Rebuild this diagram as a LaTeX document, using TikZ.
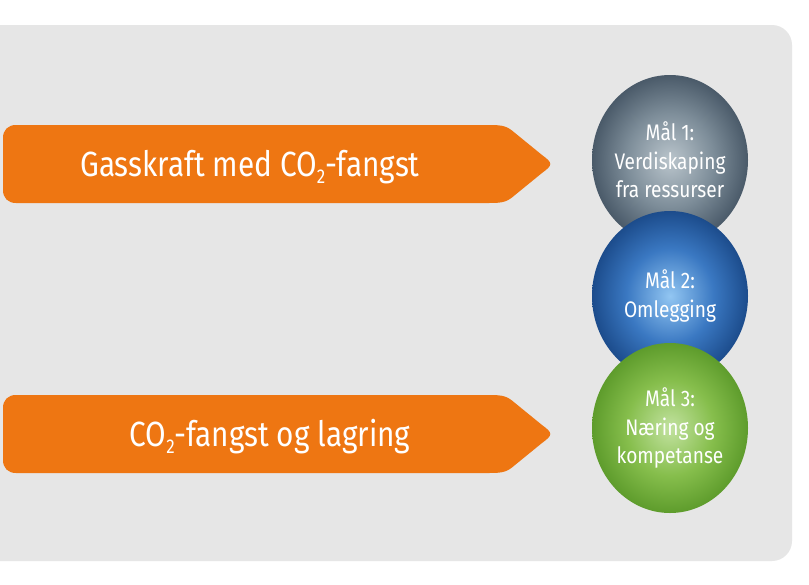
\documentclass[tikz,border=0pt]{standalone}
\usepackage{fontspec}
\newfontfamily\cf[FakeStretch=0.85]{Fira Sans}
\definecolor{panelc}{HTML}{E6E6E6}
\definecolor{arrowc}{HTML}{EE7612}
\definecolor{gA}{HTML}{BAC5CC}
\definecolor{gB}{HTML}{7D8D99}
\definecolor{gC}{HTML}{4A5A69}
\definecolor{bA}{HTML}{92C6F2}
\definecolor{bB}{HTML}{3A78C2}
\definecolor{bC}{HTML}{1C4C8C}
\definecolor{vA}{HTML}{C2E2A0}
\definecolor{vB}{HTML}{86BE4C}
\definecolor{vC}{HTML}{5E9C2C}
\pgfdeclareradialshading{ballgray}{\pgfpointorigin}{color(0bp)=(gA); color(14bp)=(gB); color(25bp)=(gC); color(50bp)=(gC)}
\pgfdeclareradialshading{ballblue}{\pgfpointorigin}{color(0bp)=(bA); color(14bp)=(bB); color(25bp)=(bC); color(50bp)=(bC)}
\pgfdeclareradialshading{ballgreen}{\pgfpointorigin}{color(0bp)=(vA); color(14bp)=(vB); color(25bp)=(vC); color(50bp)=(vC)}
\newcommand\subtwo{\raisebox{-7pt}{\fontsize{20}{20}\selectfont 2}}
\tikzset{
  orangearrow/.pic={\fill[arrowc] (16,125) -- (489,125) .. controls (503,125) and (507,126) .. (515,133) -- (542,155) .. controls (553,163) and (553,165) .. (542,173) -- (515,195) .. controls (507,202) and (503,203) .. (489,203) -- (16,203) .. controls (8,203) and (3,198) .. (3,190) -- (3,138) .. controls (3,130) and (8,125) .. (16,125) -- cycle;},
  arrowtext/.style={text=white, font=\cf\fontsize{35}{38}\selectfont, anchor=base, inner sep=0pt},
  goaltext/.style={text=white, font=\cf\fontsize{22.5}{28.5}\selectfont, align=center, inner sep=0pt},
}
\begin{document}
\begin{tikzpicture}[x=1pt,y=-1pt]
\useasboundingbox (0,0) rectangle (809,584);
\fill[white] (0,0) rectangle (809,584);
\fill[panelc] (-5,25) -- (772,25) .. controls (783,25) and (792,34) .. (792,45) -- (792,541) .. controls (792,552) and (783,561) .. (772,561) -- (-5,561) -- cycle;
\pic at (0,0) {orangearrow};
\pic at (0,270) {orangearrow};
\node[arrowtext] (a1) at (250,176) {Gasskraft med CO\subtwo-fangst};
\node[arrowtext] (a2) at (270,446) {CO\subtwo-fangst og lagring};
\path[shading=ballgray] (670,160) ellipse [x radius=78, y radius=85];
\path[shading=ballblue] (670,296) ellipse [x radius=78, y radius=85];
\path[shading=ballgreen] (670,428) ellipse [x radius=78, y radius=85];
\node[goaltext] (m1) at (670,160) {Mål 1:\\Verdiskaping\\fra ressurser};
\node[goaltext] (m2) at (670,296) {Mål 2:\\Omlegging};
\node[goaltext] (m3) at (670,428) {Mål 3:\\Næring og\\kompetanse};
\end{tikzpicture}
\end{document}
